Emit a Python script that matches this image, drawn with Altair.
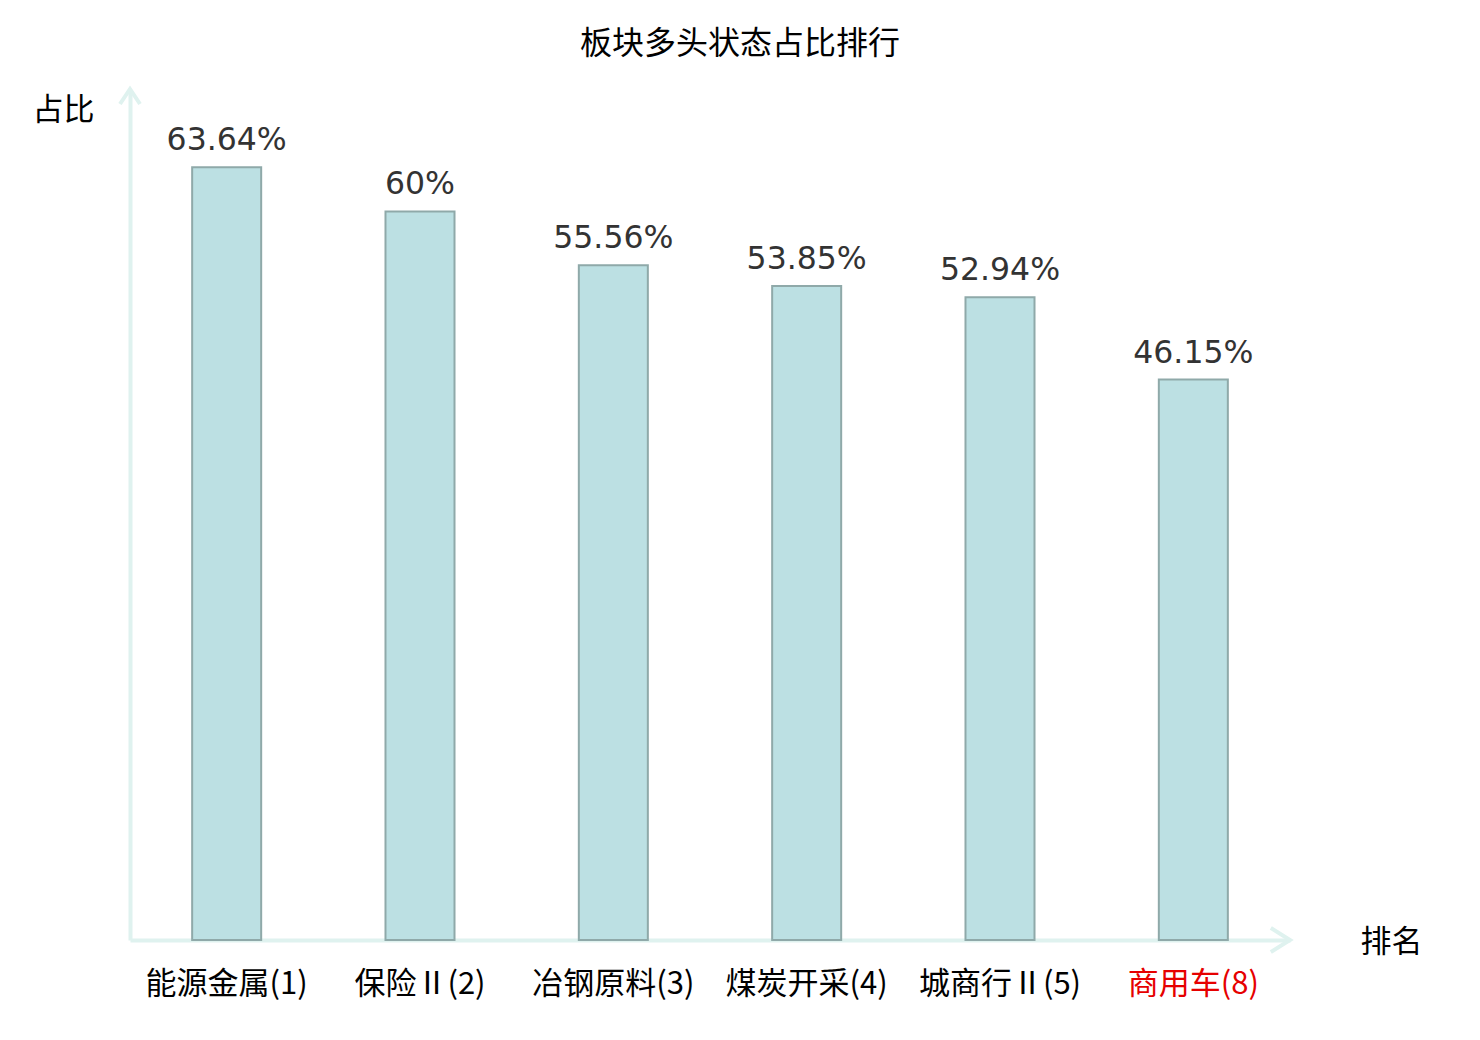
import altair as alt
import pandas as pd

categories = ["能源金属(1)", "保险Ⅱ(2)", "冶钢原料(3)", "煤炭开采(4)", "城商行Ⅱ(5)", "商用车(8)"]
values = [63.64, 60, 55.56, 53.85, 52.94, 46.15]
highlight = "商用车(8)"

df = pd.DataFrame({"cat": categories, "value": values})

AXIS_COLOR = "#dff2ef"
CJK = "Noto Sans CJK SC"
W, H = 1160, 850

x_enc = alt.X(
    "cat:N",
    sort=categories,
    scale=alt.Scale(paddingInner=0.643, paddingOuter=0.3215),
    axis=alt.Axis(
        title="排名",
        titleFont=CJK,
        titleFontSize=31,
        titleFontWeight="normal",
        titleColor="#000000",
        titleAngle=0,
        titleX=1261,
        titleY=2,
        titleAlign="center",
        titleBaseline="middle",
        labelFont=CJK,
        labelFontSize=31,
        labelAngle=0,
        labelPadding=29,
        labelColor={"condition": {"test": f"datum.value == '{highlight}'", "value": "#e60000"}, "value": "#000000"},
        ticks=False,
        domainColor=AXIS_COLOR,
        domainWidth=4,
        grid=False,
    ),
)

y_enc = alt.Y(
    "value:Q",
    scale=alt.Scale(domain=[0, 70], nice=False),
    axis=alt.Axis(
        title="占比",
        titleFont=CJK,
        titleFontSize=31,
        titleFontWeight="normal",
        titleColor="#000000",
        titleAngle=0,
        titleX=-67,
        titleY=20,
        titleAlign="center",
        titleBaseline="middle",
        labels=False,
        ticks=False,
        grid=False,
        domainColor=AXIS_COLOR,
        domainWidth=4,
    ),
)

base = alt.Chart(df)

bars = base.mark_bar(fill="#bce0e3", stroke="#8fa9a9", strokeWidth=2).encode(x=x_enc, y=y_enc)

labels = base.transform_calculate(label="datum.value + '%'").mark_text(
    font="DejaVu Sans", fontSize=31.5, color="#333333", baseline="alphabetic", dy=-17
).encode(x=alt.X("cat:N", sort=categories), y="value:Q", text="label:N")

x_arrow = alt.Chart(pd.DataFrame({"a": [0]})).mark_point(
    shape="M-1.6,-1L0,0L-1.6,1", filled=False, stroke=AXIS_COLOR, strokeWidth=4, size=576, opacity=1
).encode(x=alt.value(W), y=alt.value(H))

y_arrow = alt.Chart(pd.DataFrame({"a": [0]})).mark_point(
    shape="M-1,1.5L0,0L1,1.5", filled=False, stroke=AXIS_COLOR, strokeWidth=4, size=400, opacity=1
).encode(x=alt.value(0), y=alt.value(-1))

chart = alt.layer(bars, labels, x_arrow, y_arrow).properties(
    width=W,
    height=H,
    background="white",
    autosize=alt.AutoSizeParams(type="none"),
    padding={"left": 122, "top": 82, "right": 180, "bottom": 90},
    title=alt.TitleParams(
        text="板块多头状态占比排行",
        font=CJK,
        fontSize=32,
        fontWeight="normal",
        color="#000000",
        anchor="middle",
        dx=30,
        baseline="middle",
        offset=5,
    ),
).configure_view(stroke=None, strokeWidth=0)

chart.save("out.html", embed_options={"renderer": "svg", "actions": False})
